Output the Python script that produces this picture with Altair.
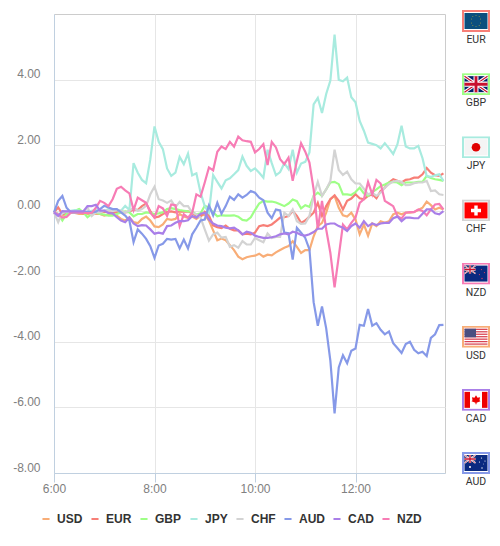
import base64
import altair as alt
import pandas as pd

USD = [-.05,-.1,-.15,-.1,-.05,-.07,-.1,-.1,-.1,-.1,-.1,-.1,-.15,-.12,-.1,-.15,-.25,-.3,-.2,-.35,-.38,-.25,-.18,-.3,-.48,-.5,-.42,-.25,-.28,-.25,-.1,-.18,-.22,-.18,-.25,-.15,-.12,-.3,-.6,-.9,-.85,-.9,-1.05,-1.2,-1.4,-1.48,-1.42,
       -1.39,-1.37,-1.31,-1.4,-1.34,-1.36,-1.27,-1.2,-1.13,-1.08,-.93,-1.1,-1.29,-1.2,-1.2,-.78,-.47,-.37,-.06,.35,.45,.09,-.14,-.18,-.06,-.27,-.72,-.42,-.76,-.39,-.47,-.32,-.37,-.32,-.11,-.06,-.11,-.06,-.06,-.04,.02,.09,.28,.17,.04,.09,.04]
EUR = [-.05,.1,-.1,-.08,-.05,-.03,-.05,-.08,-.05,-.03,-.05,-.06,-.03,-.05,-.07,-.05,-.03,-.05,-.03,.04,.02,.14,.22,-.01,-.21,-.18,-.1,-.04,-.02,-.05,-.02,-.03,-.02,-.08,-.15,-.17,-.03,-.15,-.45,-.5,-.53,-.45,-.55,-.6,-.6,-.72,-.7,
       -.72,-.67,-.47,-.44,-.47,-.42,-.32,-.21,-.2,-.16,-.01,-.16,-.37,-.3,-.18,-.06,.24,-.16,.14,.35,.47,.3,.04,.3,.37,.5,.38,.35,.45,.5,.38,.6,.7,.86,.96,.91,.86,.94,.96,1.01,1.01,1.11,1.3,1.16,1.08,1.06,1.14]
GBP = [-.05,-.1,-.3,-.1,-.05,0,.05,-.05,-.2,-.1,-.05,-.1,-.12,-.15,-.15,-.1,-.05,-.02,-.05,-.17,-.1,-.1,-.05,-.07,-.1,-.08,-.05,.05,.08,.05,.02,0,-.02,-.03,-.12,-.08,.15,.1,-.05,-.17,-.14,-.15,-.15,-.14,-.18,-.28,-.3,
       -.2,.02,.22,.3,.28,.28,.25,.2,.14,.22,.34,.29,.07,.17,.12,.45,.55,.45,.65,.86,.88,.81,.5,.5,.48,.57,.7,.53,.45,.57,.65,.75,.8,.86,.88,.86,.78,.86,.86,.86,.88,.88,1.06,1.0,.96,.94,.91]
JPY = [-.05,-.1,-.08,-.02,0,.02,0,-.02,-.05,0,.02,-.03,0,.05,.02,.02,0,.15,.02,1.45,1.16,.94,.84,1.57,2.57,2.1,1.88,1.29,1.06,1.16,1.64,1.42,1.74,1.08,1.14,.55,.14,-.06,1.09,.88,.68,.93,.99,1.11,1.24,1.65,1.37,
       1.21,1.29,1.16,1.01,1.86,1.45,1.08,1.18,1.45,1.27,1.86,1.16,1.44,1.49,1.78,3.24,3.44,2.98,3.56,3.97,5.37,3.99,3.95,4.06,3.46,3.31,2.74,2.44,2.08,2.04,2.0,1.9,2.06,1.9,1.73,2.02,2.59,1.96,1.9,1.9,1.98,1.6,1.06,1.03,1.08,1.11,.91]
CHF = [-.05,-.35,-.05,-.03,-.05,-.05,-.05,-.03,.1,-.16,-.05,-.05,0,0,.02,.03,0,-.05,0,.09,0,.05,.15,.5,.73,.35,.31,.24,.31,.11,.27,.14,.14,-.06,-.11,-.21,-.57,-.91,-.72,-.67,-.82,-.8,-1.1,-1.05,-1.13,-.93,-1.03,
       -1.03,-.83,-.9,-.96,-.69,-.83,-.8,-.8,-.06,-.16,.04,-.32,-.4,-.39,-.16,.45,.88,.45,.65,.91,1.86,1.24,1.09,1.19,.96,.83,.83,.67,.5,.55,.45,.55,.7,.81,.89,.91,.88,.78,.79,.84,.86,.86,.91,.6,.62,.5,.48]
AUD = [-.05,.3,.45,.09,-.05,-.05,-.05,-.05,-.03,-.05,-.03,.05,.15,.1,.05,.05,-.05,-.15,-.3,-.96,-.57,-.7,-.86,-1.08,-1.44,-1.06,-1.01,-.86,-.88,-.86,-1.15,-.88,-1.15,-.72,-.52,-.3,-.27,.16,-.14,.24,-.09,.14,.43,.33,.5,.4,.48,
       .6,.55,.4,.32,-.06,-.23,.04,.01,-.67,-.69,-1.49,-.52,-.67,-.83,-1.18,-2.79,-3.51,-2.92,-3.59,-4.58,-6.18,-4.78,-4.41,-4.65,-4.27,-4.2,-3.48,-3.51,-3.0,-3.51,-3.43,-3.63,-3.77,-3.68,-4.04,-4.19,-4.34,-4.07,-4.0,-4.24,-4.35,-4.3,-4.43,-3.88,-3.77,-3.49,-3.48]
CAD = [-.05,-.16,-.01,-.02,-.02,-.02,-.02,-.02,.14,.14,.18,0,0,-.07,-.08,-.2,-.3,-.35,-.21,-.39,-.47,-.44,-.45,-.57,-.7,-.67,-.7,-.47,-.45,-.37,-.32,-.32,-.29,-.16,-.21,-.09,-.06,-.27,-.39,-.45,-.47,-.52,-.54,-.52,-.6,-.72,-.64,
       -.67,-.76,-.8,-.83,-.83,-.81,-.78,-.72,-.69,-.72,-.64,-.67,-.74,-.76,-.72,-.65,-.55,-.55,-.42,-.39,-.39,-.47,-.52,-.62,-.47,-.39,-.52,-.32,-.47,-.39,-.44,-.39,-.37,-.37,-.23,-.18,-.32,-.21,-.21,-.23,-.23,-.09,.04,.04,-.08,-.11,-.01]
NZD = [-.05,-.11,-.21,-.19,-.06,-.04,-.06,-.07,-.07,-.07,.09,.3,.24,.14,.35,.67,.73,.62,.53,.02,.4,.32,.24,-.06,-.21,.14,.07,-.16,.19,.17,-.47,-.11,-.21,-.06,.5,.43,.86,1.32,1.23,1.8,1.96,1.88,2.1,1.95,2.26,2.15,2.12,
       2.1,1.78,1.88,2.03,1.39,2.1,1.93,1.57,1.42,1.62,.91,1.52,2.06,1.8,1.47,.65,-.57,.3,-.57,-1.29,-2.34,-1.39,-.42,-.57,-.37,-.21,.24,.35,.88,.5,.94,.83,.3,.22,.14,-.16,-.24,-.06,-.04,-.04,.04,-.01,-.14,.04,.19,.21,.04]

LEGEND_ORDER = ["USD", "EUR", "GBP", "JPY", "CHF", "AUD", "CAD", "NZD"]
COLORS = ["#f8ad77", "#f77f77", "#9eff86", "#a8ebdf", "#d3d3d3", "#8699e8", "#a97fe8", "#f77cb5"]
FLAG_ORDER = ["EUR", "GBP", "JPY", "CHF", "NZD", "USD", "CAD", "AUD"]
SERIES = {"USD": USD, "EUR": EUR, "GBP": GBP, "JPY": JPY, "CHF": CHF, "AUD": AUD, "NZD": NZD, "CAD": CAD}
COLOR_OF = dict(zip(LEGEND_ORDER, COLORS))

rows = []
for name, vals in SERIES.items():
    for i, v in enumerate(vals):
        rows.append({"hour": 6 + i * 5 / 60, "value": v, "currency": name})
df = pd.DataFrame(rows)


def union(x=0, y=0, w=12, h=8):
    return (f'<g transform="translate({x},{y}) scale({w/12},{h/8})">'
            '<rect width="12" height="8" fill="#012169"/>'
            '<path d="M0 0L12 8M12 0L0 8" stroke="#fff" stroke-width="1.6"/>'
            '<path d="M0 0L12 8M12 0L0 8" stroke="#c8102e" stroke-width=".6"/>'
            '<path d="M6 0V8M0 4H12" stroke="#fff" stroke-width="2.6"/>'
            '<path d="M6 0V8M0 4H12" stroke="#c8102e" stroke-width="1.5"/></g>')


def stars(pts, col):
    return "".join(f'<circle cx="{a}" cy="{b}" r="{r}" fill="{col}"/>' for a, b, r in pts)


FLAGS = {
    "EUR": '<rect width="23" height="16" fill="#0b4f7e"/>' + stars(
        [(11.5, 2.5, .5), (14.7, 3.6, .5), (16, 6, .5), (16, 10, .5), (14.7, 12.4, .5), (11.5, 13.5, .5),
         (8.3, 12.4, .5), (7, 10, .5), (7, 6, .5), (8.3, 3.6, .5)], "#9a9a40"),
    "GBP": union(0, 0, 23, 16),
    "JPY": '<rect width="23" height="16" fill="#f4f4f4"/><circle cx="11.5" cy="8" r="4.3" fill="#e00000"/>',
    "CHF": '<rect width="23" height="16" fill="#ff0000"/><path d="M11.5 3V13M6.5 8H16.5" stroke="#fff" stroke-width="3.4"/>',
    "NZD": '<rect width="23" height="16" fill="#0a2a80"/>' + union(0, 0, 11, 8) + stars(
        [(17, 4, .6), (20, 7, .6), (15, 9, .6), (17.5, 13, .7)], "#d84060"),
    "USD": '<rect width="23" height="16" fill="#fff"/>' + "".join(
        f'<rect y="{k*2.46:.2f}" width="23" height="1.23" fill="#d84050"/>' for k in range(7)) +
        '<rect width="11.5" height="8.6" fill="#4a4f80"/>',
    "CAD": '<rect width="23" height="16" fill="#fff"/><rect width="5.5" height="16" fill="#ee0000"/>'
           '<rect x="17.5" width="5.5" height="16" fill="#ee0000"/>'
           '<path d="M11.5 3.5L13 6L15.5 5.5L15 8.5L16 9.5L12 11L12 12.5L11 12.5L11 11L7 9.5L8 8.5L7.5 5.5L10 6Z" fill="#ee0000"/>',
    "AUD": '<rect width="23" height="16" fill="#0a2a80"/>' + union(0, 0, 11, 8) + stars(
        [(5.5, 12, 1), (17, 3, .6), (20.5, 6, .6), (15, 7, .6), (17.5, 13, .7), (19, 9, .4)], "#fff"),
}


def flag_uri(code):
    svg = ('<svg xmlns="http://www.w3.org/2000/svg" width="28" height="22" viewBox="0 0 28 22">'
           f'<rect x="1" y="1" width="26" height="20" fill="#fff" stroke="{COLOR_OF[code]}" stroke-width="2"/>'
           f'<g transform="translate(2.5,3)">{FLAGS[code]}</g></svg>')
    return "data:image/svg+xml;base64," + base64.b64encode(svg.encode()).decode()


flag_df = pd.DataFrame({"currency": FLAG_ORDER, "img": [flag_uri(c) for c in FLAG_ORDER]})

W, H = 391, 459
FONT = "Liberation Sans"

x_axis = alt.Axis(values=[6, 8, 10, 12], labelExpr="floor(datum.value) + ':00'", title=None,
                  grid=True, gridColor="#e6e6e6", domainColor="#c0d0e0", tickColor="#c0d0e0",
                  tickSize=9, labelColor="#808080", labelFontSize=12, labelFont=FONT,
                  labelPadding=1, labelFlush=False)
y_axis = alt.Axis(values=[-8, -6, -4, -2, 0, 2, 4], format=".2f", labelExpr="replace(datum.label, '−', '-')",
                  title=None, grid=True,
                  gridColor="#e6e6e6", domainColor="#c0d0e0", ticks=False, labelColor="#808080",
                  labelFontSize=12, labelFont=FONT, labelPadding=14, labelOffset=-6)

lines = alt.Chart(df).mark_line(strokeWidth=2.2, interpolate="linear").encode(
    x=alt.X("hour:Q", scale=alt.Scale(domain=[6, 13.781], nice=False, zero=False), axis=x_axis),
    y=alt.Y("value:Q", scale=alt.Scale(domain=[-8, 6], nice=False, zero=False), axis=y_axis),
    color=alt.Color("currency:N", scale=alt.Scale(domain=LEGEND_ORDER, range=COLORS),
                    legend=alt.Legend(title=None, orient="none", legendX=-14, legendY=499, direction="horizontal",
                                      columns=8, gridAlign="each", symbolType="stroke", symbolStrokeWidth=2,
                                      symbolSize=50, labelFont=FONT, labelFontSize=12, labelFontWeight="bold",
                                      labelColor="#333333", columnPadding=4, labelOffset=5)),
    detail="currency:N",
)

flag_y = alt.Y("currency:N", sort=FLAG_ORDER,
               scale=alt.Scale(type="point", domain=FLAG_ORDER, range=[7, 449], padding=0), axis=None)

flags = alt.Chart(flag_df).mark_image(width=28, height=22, aspect=False).encode(
    x=alt.value(422), y=flag_y, url="img:N")
labels = alt.Chart(flag_df).mark_text(font="Roboto", fontSize=10.5, color="#333333",
                                      dy=19).encode(x=alt.value(422), y=flag_y, text="currency:N")

chart = alt.layer(lines, flags, labels).resolve_scale(y="independent").properties(
    width=W, height=H,
    autosize=alt.AutoSizeParams(type="none"),
    padding={"left": 46, "top": 6, "right": 47, "bottom": 60},
).configure_view(stroke="#cccccc", strokeWidth=1)

chart.save("out.html", embed_options={"renderer": "svg", "actions": False})
